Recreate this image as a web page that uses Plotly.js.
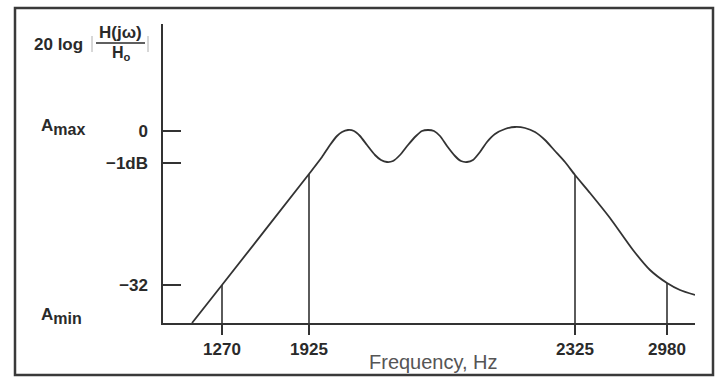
<!DOCTYPE html>
<html>
<head>
<meta charset="utf-8">
<script src="https://cdn.plot.ly/plotly-3.0.1.min.js"></script>
<style>
  html, body { margin: 0; padding: 0; background: #fff; }
  #chart { width: 720px; height: 378px; }
</style>
</head>
<body>
<div id="chart"></div>
<script>
// Schematic axes (the original drawing is not to scale):
// x = schematic frequency position, y = schematic attenuation level.
const curveX = [29, 59, 146, 159, 167, 174, 179, 185, 191, 197, 204, 212, 218, 224, 230, 237, 245, 253, 259, 265, 271, 277, 284, 292, 298, 304, 310, 317, 324, 332, 342, 352, 362, 372, 382, 392, 402, 412, 427, 447, 470, 487, 504, 517, 532];
const curveY = [-192, -154, -43, -26, -14, -5, -1, 1, 0, -5, -14, -24, -29, -31, -30, -24, -14, -5, 0, 1, 0, -5, -15, -25, -30, -31, -29, -21, -11, -3, 2, 4, 3, -1, -9, -20, -31, -44, -62, -87, -119, -139, -152, -159, -164];

const freqPos = [59, 146, 412, 504];
const freqLabels = ['1270', '1925', '2325', '2980'];
const freqLevel = [-154, -43, -44, -152];

const levelPos = [0, -32, -154];
const levelLabels = ['0', '\u22121dB', '\u221232'];

const xTitle = 'Frequency, Hz';

const yMin = -192, yMax = 107;
const xMin = 0, xMax = 532;

const ink = '#333333';
const traces = [{
  x: curveX, y: curveY, type: 'scatter', mode: 'lines',
  line: { color: ink, width: 1.8, shape: 'spline', smoothing: 0.6 },
  hoverinfo: 'skip', showlegend: false
}];
freqPos.forEach((p, i) => {
  traces.push({
    x: [p, p], y: [yMin, freqLevel[i]], type: 'scatter', mode: 'lines',
    line: { color: ink, width: 1.6 }, hoverinfo: 'skip', showlegend: false
  });
});

const font = { family: 'Liberation Sans, Arial, sans-serif', color: '#2a2a2a' };
const px = (v) => (v - 163) / 532;
const py = (v) => (323 - v) / 299;

const layout = {
  width: 720, height: 378,
  margin: { l: 163, r: 25, t: 24, b: 55 },
  paper_bgcolor: '#ffffff', plot_bgcolor: '#ffffff',
  showlegend: false,
  xaxis: {
    range: [xMin, xMax], showgrid: false, zeroline: false,
    showline: true, linecolor: ink, linewidth: 1.6,
    ticks: 'outside', ticklen: 10, tickwidth: 1.6, tickcolor: ink,
    tickvals: freqPos, ticktext: freqLabels,
    tickfont: Object.assign({ size: 17, weight: 'bold' }, font),
    fixedrange: true
  },
  yaxis: {
    range: [yMin, yMax], showgrid: false, zeroline: false,
    showline: true, linecolor: ink, linewidth: 1.6,
    ticks: 'inside', ticklen: 18, tickwidth: 1.6, tickcolor: ink,
    tickvals: levelPos, ticktext: levelLabels,
    tickfont: Object.assign({ size: 17, weight: 'bold' }, font),
    ticklabelstandoff: 10,
    fixedrange: true
  },
  shapes: [
    { type: 'rect', xref: 'paper', yref: 'paper',
      x0: px(15), x1: px(713), y0: py(375), y1: py(8),
      line: { color: '#3a3a3a', width: 2.5 }, fillcolor: 'rgba(0,0,0,0)' },
    // fraction bar of the y title
    { type: 'line', xref: 'paper', yref: 'paper',
      x0: px(96), x1: px(145), y0: py(43), y1: py(43),
      line: { color: '#2a2a2a', width: 1.4 } },
    // faint absolute-value bars
    { type: 'line', xref: 'paper', yref: 'paper',
      x0: px(92), x1: px(92), y0: py(36), y1: py(52),
      line: { color: '#b0b0b0', width: 1 } },
    { type: 'line', xref: 'paper', yref: 'paper',
      x0: px(148), x1: px(148), y0: py(36), y1: py(52),
      line: { color: '#b0b0b0', width: 1 } }
  ],
  annotations: [
    { text: xTitle, xref: 'paper', yref: 'paper', showarrow: false,
      x: px(433), y: py(362), xanchor: 'center', yanchor: 'middle',
      font: Object.assign({}, font, { size: 20, color: '#555555' }) },
    { text: '<b>20 log</b>', xref: 'paper', yref: 'paper', showarrow: false,
      x: px(32), y: py(45), xanchor: 'left', yanchor: 'middle',
      font: Object.assign({ size: 17 }, font) },
    { text: '<b>H(j\u03c9)</b>', xref: 'paper', yref: 'paper', showarrow: false,
      x: px(120.5), y: py(33), xanchor: 'center', yanchor: 'middle',
      font: Object.assign({ size: 17 }, font) },
    { text: '<b>H<sub>o</sub></b>', xref: 'paper', yref: 'paper', showarrow: false,
      x: px(121), y: py(53), xanchor: 'center', yanchor: 'middle',
      font: Object.assign({ size: 16 }, font) },
    { text: '<b>A<sub><span style="font-size:16px">max</span></sub></b>', xref: 'paper', yref: 'paper', showarrow: false,
      x: px(39), y: py(127), xanchor: 'left', yanchor: 'middle',
      font: Object.assign({ size: 17 }, font) },
    { text: '<b>A<sub><span style="font-size:16px">min</span></sub></b>', xref: 'paper', yref: 'paper', showarrow: false,
      x: px(39), y: py(316), xanchor: 'left', yanchor: 'middle',
      font: Object.assign({ size: 17 }, font) }
  ]
};

Plotly.newPlot('chart', traces, layout, { staticPlot: true, displayModeBar: false });
</script>
</body>
</html>
